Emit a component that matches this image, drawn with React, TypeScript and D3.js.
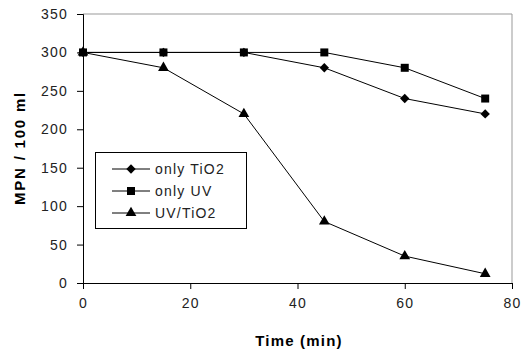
import { useEffect, useRef } from "react";
import * as d3 from "d3";

const times = [0, 15, 30, 45, 60, 75];
const onlyTiO2 = [300, 300, 300, 280, 240, 220];
const onlyUV = [300, 300, 300, 300, 280, 240];
const uvTiO2 = [300, 280, 220, 80, 35, 12];
const seriesNames = ["only TiO2", "only UV", "UV/TiO2"];
const xTicks = [0, 20, 40, 60, 80];
const yTicks = [0, 50, 100, 150, 200, 250, 300, 350];

export default function App() {
  const ref = useRef<SVGSVGElement>(null);

  useEffect(() => {
    const svg = d3.select(ref.current);
    svg.selectAll("*").remove();
    const width = 522, height = 354;
    const left = 83, right = 512, top = 14, bottom = 283;
    const font = "'Liberation Sans', Arial, sans-serif";

    const x = d3.scaleLinear([0, 80], [left, right]);
    const y = d3.scaleLinear([0, 350], [bottom, top]);

    svg.append("rect").attr("width", width).attr("height", height).attr("fill", "#fff");

    // gray frame top/right
    svg.append("path")
      .attr("d", `M${left},${top}H${right}V${bottom}`)
      .attr("fill", "none").attr("stroke", "#999").attr("stroke-width", 1);

    const yAxis = svg.append("g")
      .attr("transform", `translate(${left},0)`)
      .call(d3.axisLeft(y).tickValues(yTicks).tickSize(6).tickPadding(9));
    const xAxis = svg.append("g")
      .attr("transform", `translate(0,${bottom})`)
      .call(d3.axisBottom(x).tickValues(xTicks).tickSize(6).tickPadding(9));
    [yAxis, xAxis].forEach((g) => {
      g.select(".domain").attr("stroke", "#000");
      g.selectAll(".tick line").attr("stroke", "#000");
      g.selectAll(".tick text").attr("font-family", font).attr("font-size", 14)
        .attr("letter-spacing", 1.2).attr("fill", "#222");
    });

    const series = [
      { name: seriesNames[0], values: onlyTiO2, shape: d3.symbolDiamond2, size: 56 },
      { name: seriesNames[1], values: onlyUV, shape: d3.symbolSquare, size: 64 },
      { name: seriesNames[2], values: uvTiO2, shape: d3.symbolTriangle, size: 50 },
    ];

    const line = d3.line<number>()
      .x((_, i) => x(times[i]))
      .y((d) => y(d));

    series.forEach((s) => {
      svg.append("path")
        .attr("d", line(s.values))
        .attr("fill", "none").attr("stroke", "#000").attr("stroke-width", 1);
      svg.append("g").selectAll("path")
        .data(s.values)
        .join("path")
        .attr("transform", (d, i) => `translate(${x(times[i])},${y(d)})`)
        .attr("d", d3.symbol(s.shape, s.size)());
    });

    // legend
    const lg = svg.append("g");
    lg.append("rect")
      .attr("x", 95.5).attr("y", 152.5).attr("width", 151).attr("height", 76)
      .attr("fill", "#fff").attr("stroke", "#000");
    series.forEach((s, i) => {
      const cy = 169 + i * 22;
      lg.append("line").attr("x1", 112).attr("x2", 150).attr("y1", cy).attr("y2", cy).attr("stroke", "#000");
      lg.append("path").attr("transform", `translate(131,${cy})`).attr("d", d3.symbol(s.shape, s.size)());
      lg.append("text").attr("x", 155).attr("y", cy + 5)
        .attr("font-family", font).attr("font-size", 14).attr("letter-spacing", 1.2)
        .attr("fill", "#222").text(s.name);
    });

    svg.append("text")
      .attr("x", 299).attr("y", 346)
      .attr("text-anchor", "middle").attr("font-family", font)
      .attr("font-size", 15).attr("font-weight", "bold").attr("letter-spacing", 1.2)
      .text("Time (min)");
    svg.append("text")
      .attr("transform", `translate(25,148) rotate(-90)`)
      .attr("text-anchor", "middle").attr("font-family", font)
      .attr("font-size", 15).attr("font-weight", "bold").attr("letter-spacing", 1.8)
      .text("MPN / 100 ml");
  }, []);

  return (
    <svg ref={ref} width={522} height={354}
      style={{ position: "absolute", left: 0, top: 0, display: "block" }} />
  );
}
